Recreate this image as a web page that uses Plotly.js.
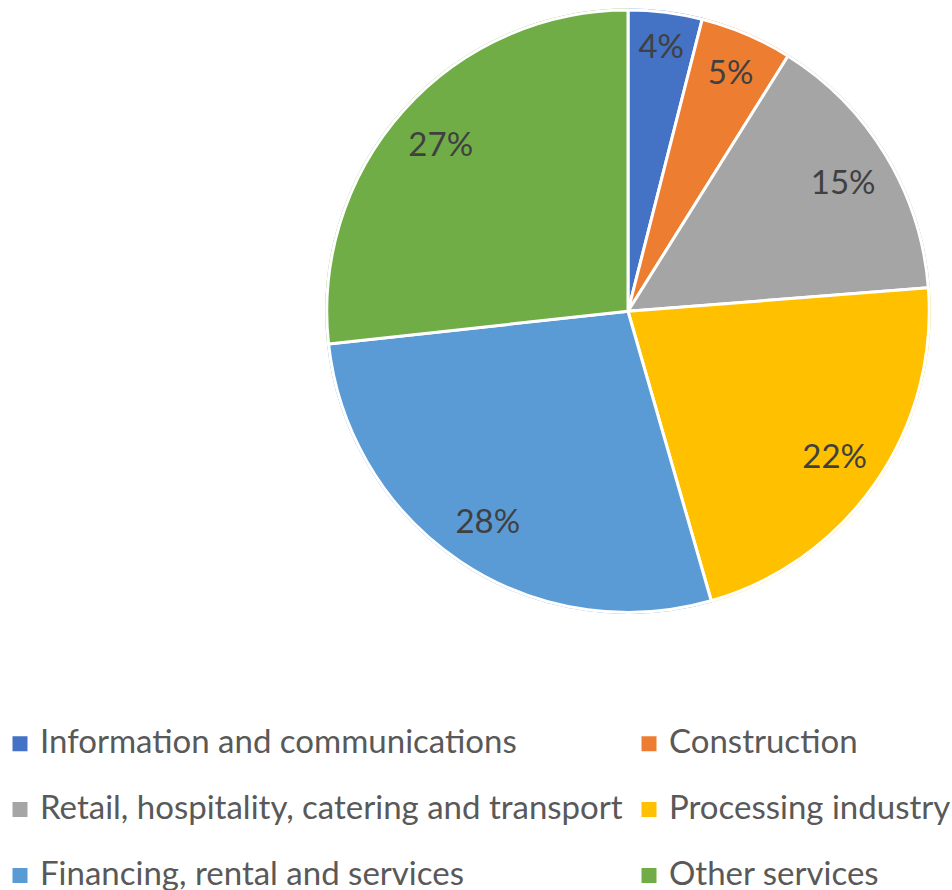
<!DOCTYPE html>
<html>
<head>
<meta charset="utf-8">
<script src="https://cdn.plot.ly/plotly-3.0.1.min.js"></script>
<style>
html,body{margin:0;padding:0;background:#fff;overflow:hidden;}
#wrap{width:952px;height:890px;overflow:hidden;position:relative;}
#chart{width:1400px;height:890px;}
</style>
</head>
<body>
<div id="wrap"><div id="chart"></div></div>
<script>
const categories = [
  "Information and communications",
  "Construction",
  "Retail, hospitality, catering and transport",
  "Processing industry",
  "Financing, rental and services",
  "Other services"
];
const shares = [4, 5, 15, 22, 28, 27];
const colors = ["#4472C4", "#ED7D31", "#A5A5A5", "#FFC000", "#5B9BD5", "#70AD47"];

const FIG_W = 1400, FIG_H = 890;
const FONT = "Lato, 'Open Sans', sans-serif";
const domain = {x: [326.5 / FIG_W, 929.5 / FIG_W], y: [1 - 612.5 / FIG_H, 1 - 10 / FIG_H]};

// legend entries: a blank line, then the label at 33px, to space the rows
const legendLabels = categories.map(c => '\u00a0<br><span style="font-size:33px">' + c + '</span>');

const legendPie = {
  type: "pie",
  labels: legendLabels,
  values: shares,
  sort: false,
  direction: "clockwise",
  rotation: 0,
  domain: domain,
  marker: {colors: colors, line: {color: colors, width: 3}},
  textinfo: "none",
  hoverinfo: "skip",
  showlegend: true
};

const pieTrace = {
  type: "pie",
  labels: categories,
  values: shares,
  sort: false,
  direction: "clockwise",
  rotation: 0,
  domain: domain,
  marker: {colors: colors, line: {color: "#ffffff", width: 3}},
  textinfo: "none",
  hoverinfo: "label+percent",
  showlegend: false
};

const labelRing = {
  type: "pie",
  labels: categories,
  values: shares,
  sort: false,
  direction: "clockwise",
  rotation: 0,
  hole: 0.67,
  domain: domain,
  marker: {colors: categories.map(() => "rgba(0,0,0,0)"), line: {width: 0}},
  texttemplate: "%{percent:.0%}",
  textposition: "inside",
  insidetextorientation: "horizontal",
  textfont: {family: FONT, size: 33, color: "#404040"},
  hoverinfo: "skip",
  showlegend: false
};

const layout = {
  width: FIG_W,
  height: FIG_H,
  margin: {l: 0, r: 0, t: 0, b: 0, autoexpand: false},
  paper_bgcolor: "#ffffff",
  showlegend: true,
  legend: {
    orientation: "h",
    x: 0,
    y: 1 - 690 / FIG_H,
    xanchor: "left",
    yanchor: "top",
    traceorder: "normal",
    valign: "bottom",
    entrywidth: 584,
    entrywidthmode: "pixels",
    font: {family: FONT, size: 24.2, color: "#595959"},
    bgcolor: "rgba(0,0,0,0)"
  }
};

Plotly.newPlot("chart", [legendPie, pieTrace, labelRing], layout, {displayModeBar: false, staticPlot: true});
</script>
</body>
</html>
